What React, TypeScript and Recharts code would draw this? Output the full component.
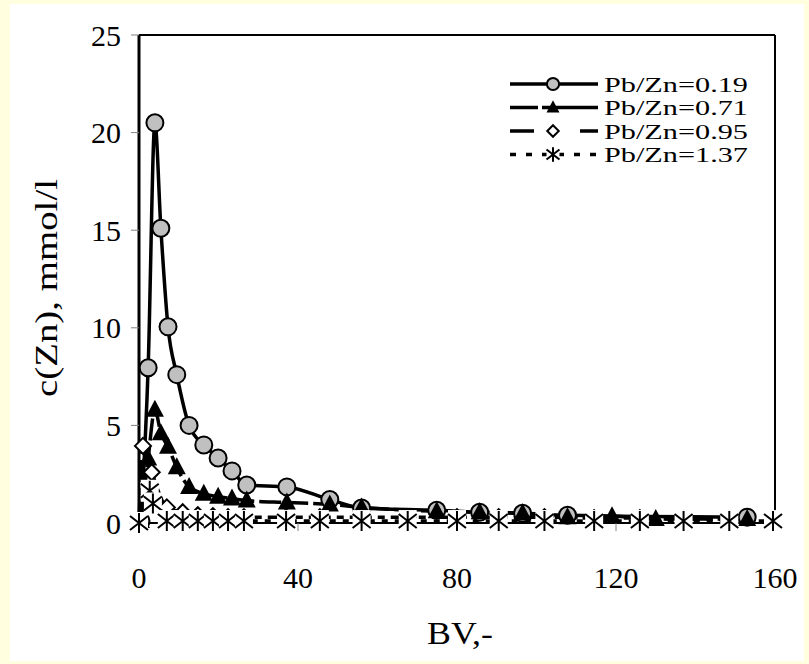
import React from "react";
import { LineChart, Line, XAxis, YAxis, Legend, ReferenceLine } from "recharts";

// BV (bed volumes) and zinc concentration, mmol/l
const bvA = [0.5, 2.3, 4.0, 5.5, 7.3, 9.5, 12.6, 16.3, 19.9, 23.4, 27.1, 37.2, 48, 56, 74.9, 85.7, 96.5, 107.8, 153];
const znA = [0.1, 7.95, 20.5, 15.1, 10.05, 7.6, 5.0, 4.0, 3.33, 2.67, 1.95, 1.85, 1.2, 0.77, 0.65, 0.55, 0.5, 0.4, 0.3];

const bvB = [0.5, 2.3, 4.0, 5.5, 7.3, 9.5, 12.6, 16.3, 19.9, 23.4, 27.1, 37.2, 48, 56, 74.9, 85.7, 96.5, 107.8, 119, 130, 153];
const znB = [0.1, 3.3, 5.8, 4.6, 3.9, 2.85, 1.85, 1.5, 1.35, 1.25, 1.15, 1.05, 0.95, 0.8, 0.6, 0.55, 0.5, 0.3, 0.35, 0.2, 0.2];

const bvC = [0, 1.0, 3.2, 7, 11, 14.8, 18.6, 22.4, 26.4, 37, 45.5, 56, 67.6, 80, 90.5, 102, 114.5, 126, 137, 148.5];
const znC = [0, 3.95, 2.6, 0.8, 0.55, 0.4, 0.35, 0.3, 0.3, 0.3, 0.3, 0.3, 0.3, 0.3, 0.3, 0.3, 0.25, 0.25, 0.2, 0.2];

const bvD = [0, 2.7, 3.5, 7, 11, 14.8, 18.6, 22.4, 26.4, 37, 45.5, 56, 67.6, 80, 90.5, 102, 114.5, 126, 137, 148.5, 159.5];
const znD = [0, 1.65, 1.0, 0.1, 0.1, 0.1, 0.1, 0.1, 0.1, 0.1, 0.1, 0.1, 0.1, 0.1, 0.1, 0.1, 0.1, 0.1, 0.1, 0.1, 0.1];

const seriesNames = ["Pb/Zn=0.19", "Pb/Zn=0.71", "Pb/Zn=0.95", "Pb/Zn=1.37"];
const xTicks = [0, 40, 80, 120, 160];
const yTicks = [0, 5, 10, 15, 20, 25];

const FONT = '"Liberation Serif", "Times New Roman", serif';

const rows = (bv: number[], zn: number[]) => bv.map((x, i) => ({ bv: x, zn: zn[i] }));

type Marker = (cx: number, cy: number, s: number, key?: string | number) => React.ReactElement;

const circleMark: Marker = (cx, cy, s, key) => (
  <circle key={key} cx={cx} cy={cy} r={8.5 * s} fill="#c0c0c0" stroke="#000" strokeWidth={2} />
);
const triangleMark: Marker = (cx, cy, s, key) => (
  <polygon key={key} points={`${cx},${cy - 10 * s} ${cx - 9 * s},${cy + 7 * s} ${cx + 9 * s},${cy + 7 * s}`} fill="#000" />
);
const diamondMark: Marker = (cx, cy, s, key) => (
  <polygon key={key} points={`${cx},${cy - 8 * s} ${cx + 8 * s},${cy} ${cx},${cy + 8 * s} ${cx - 8 * s},${cy}`} fill="#fff" stroke="#000" strokeWidth={2} />
);
const starMark: Marker = (cx, cy, s, key) => (
  <g key={key}>
    <rect x={cx - 9 * s} y={cy - 11 * s} width={18 * s} height={22 * s} fill="#fff" />
    <path
      d={`M${cx} ${cy - 10 * s}V${cy + 10 * s}M${cx - 9 * s} ${cy - 7 * s}L${cx + 9 * s} ${cy + 7 * s}M${cx - 9 * s} ${cy + 7 * s}L${cx + 9 * s} ${cy - 7 * s}`}
      stroke="#000"
      strokeWidth={2}
    />
  </g>
);

const styles = [
  { mark: circleMark, dash: undefined, legendDash: undefined },
  { mark: triangleMark, dash: "22 5", legendDash: "28 4 60" },
  { mark: diamondMark, dash: "22 6 7 6", legendDash: "24 46 18" },
  { mark: starMark, dash: "6 7", legendDash: "6 10" },
];

const dotFor = (m: Marker) => (p: any) => m(p.cx, p.cy, 1, p.index);

function LegendBox() {
  return (
    <svg width={290} height={100} style={{ display: "block" }}>
      {seriesNames.map((name, i) => {
        const y = 14 + i * 23.5;
        return (
          <g key={name}>
            <line x1={10} x2={98} y1={y} y2={y} stroke="#000" strokeWidth={3.5} strokeDasharray={styles[i].legendDash} />
            {styles[i].mark(53, y, 0.72)}
            <text
              x={104}
              y={y + 7.5}
              fontFamily={FONT}
              fontSize={20.5}
              textLength={144}
              lengthAdjust="spacingAndGlyphs"
              fill="#000"
            >
              {name}
            </text>
          </g>
        );
      })}
    </svg>
  );
}

export default function App() {
  const tick = { fontFamily: FONT, fontSize: 30, fill: "#000" };
  return (
    <div style={{ position: "relative", width: 809, height: 664, background: "#ffffe0" }}>
      <style>{"body{margin:0}"}</style>
      <div style={{ position: "absolute", left: 10, top: 4, width: 794, height: 657, background: "#fff" }} />
      <div style={{ position: "absolute", left: 0, top: 0 }}>
        <LineChart width={809} height={664} margin={{ top: 35, right: 34, bottom: 11, left: 59 }}>
          <XAxis
            type="number"
            dataKey="bv"
            domain={[0, 160]}
            ticks={xTicks}
            height={130}
            tickSize={8}
            tickMargin={36}
            tick={tick}
            axisLine={{ stroke: "#000", strokeWidth: 2 }}
            tickLine={{ stroke: "#808080" }}
            allowDuplicatedCategory={false}
            label={() => (
              <text x={460} y={644} textAnchor="middle" fontFamily={FONT} fontSize={32} textLength={66} lengthAdjust="spacingAndGlyphs" fill="#000">
                BV,-
              </text>
            )}
          />
          <YAxis
            type="number"
            dataKey="zn"
            domain={[0, 25]}
            ticks={yTicks}
            width={80}
            tickSize={8}
            tickMargin={10}
            tick={tick}
            axisLine={{ stroke: "#000", strokeWidth: 3 }}
            tickLine={{ stroke: "#808080" }}
            label={() => (
              <text
                x={57}
                y={288}
                transform="rotate(-90 57 288)"
                textAnchor="middle"
                fontFamily={FONT}
                fontSize={31}
                textLength={218}
                lengthAdjust="spacingAndGlyphs"
                fill="#000"
              >
                c(Zn), mmol/l
              </text>
            )}
          />
          <ReferenceLine y={25} stroke="#000" strokeWidth={2} />
          <ReferenceLine x={160} stroke="#000" strokeWidth={2} />
          {[rows(bvA, znA), rows(bvB, znB), rows(bvC, znC), rows(bvD, znD)].map((d, i) => (
            <Line
              key={seriesNames[i]}
              name={seriesNames[i]}
              data={d}
              dataKey="zn"
              type="monotone"
              stroke="#000"
              strokeWidth={3.5}
              strokeDasharray={styles[i].dash}
              dot={dotFor(styles[i].mark)}
              activeDot={false}
              isAnimationActive={false}
            />
          ))}
          <Legend
            layout="horizontal"
            verticalAlign="middle"
            align="center"
            content={() => <LegendBox />}
            wrapperStyle={{ left: 500, top: 70, width: 290 }}
          />
        </LineChart>
      </div>
    </div>
  );
}
